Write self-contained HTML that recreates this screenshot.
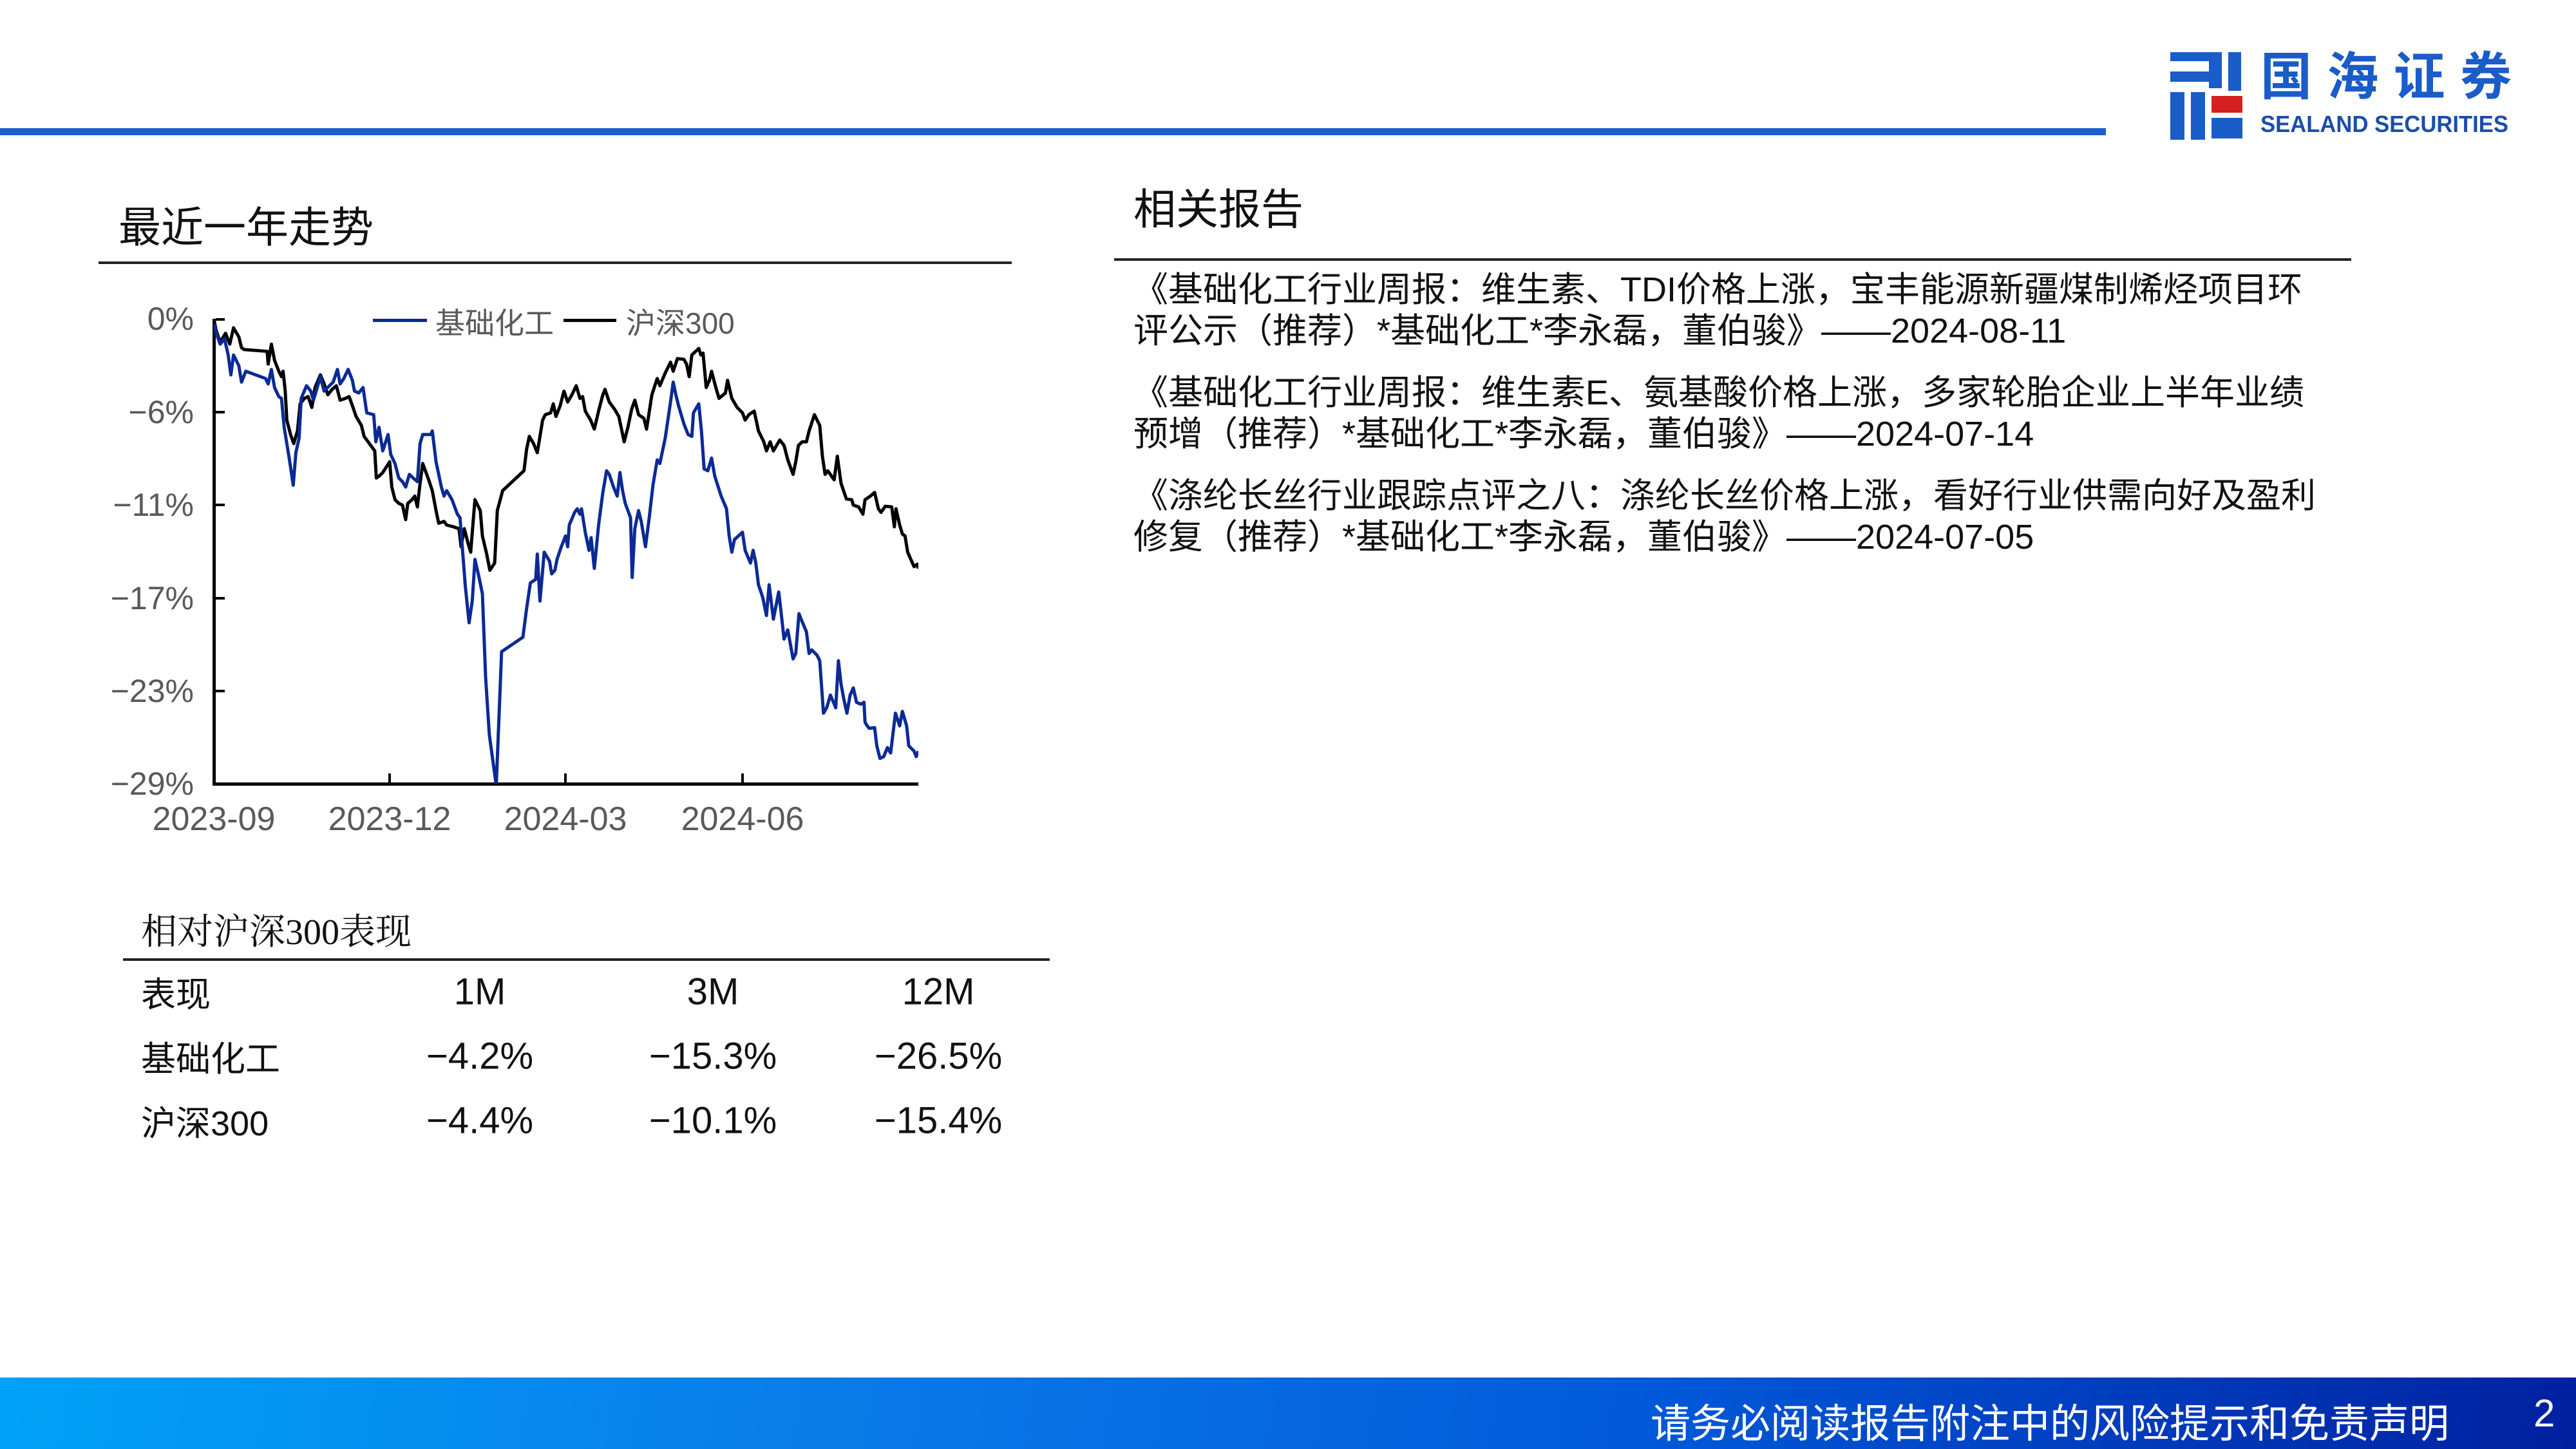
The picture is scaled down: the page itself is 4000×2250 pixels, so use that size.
<!DOCTYPE html>
<html><head><meta charset="utf-8"><style>
body{margin:0;width:4000px;height:2250px;position:relative;background:#fff;overflow:hidden;font-family:"Liberation Sans","Noto Sans CJK SC",sans-serif;color:#111}
.a{position:absolute;white-space:nowrap}
.yl{position:absolute;right:3699px;font-size:50px;color:#595959;transform:translateY(-50%)}
.xl{position:absolute;top:1242px;font-size:52px;color:#595959;transform:translateX(-50%)}
.rep{position:absolute;left:1760px;font-size:54px;line-height:64px}
.tc{position:absolute;font-size:58px;transform:translate(-50%,-50%)}
</style></head><body>
<div class="a" style="left:0;top:199px;width:3270px;height:11px;background:#1c5fd0"></div>
<svg class="a" style="left:3360px;top:75px" width="560" height="150" viewBox="0 0 560 150">
<rect x="10" y="6" width="70" height="14" fill="#1a5cc8"/><rect x="10" y="36" width="70" height="16" fill="#1a5cc8"/>
<rect x="10" y="68" width="22" height="74" fill="#1a5cc8"/><rect x="42" y="68" width="22" height="74" fill="#1a5cc8"/>
<rect x="70" y="6" width="20" height="56" fill="#1a5cc8"/><rect x="100" y="6" width="20" height="60" fill="#1a5cc8"/>
<rect x="74" y="74" width="48" height="26" fill="#d42020"/><rect x="74" y="108" width="48" height="32" fill="#1a5cc8"/>
<text x="150" y="72" font-size="80" font-weight="bold" fill="#1a5cc8" font-family="Noto Sans CJK SC,sans-serif" textLength="390">国海证券</text>
<text x="150" y="130" font-size="36" font-weight="bold" fill="#1a4ea8" font-family="Liberation Sans,sans-serif" textLength="385" lengthAdjust="spacingAndGlyphs">SEALAND SECURITIES</text>
</svg>
<div class="a" style="left:184px;top:300px;font-size:66px">最近一年走势</div>
<div class="a" style="left:153px;top:406px;width:1418px;height:4px;background:#222"></div>
<div class="a" style="left:1760px;top:272px;font-size:66px">相关报告</div>
<div class="a" style="left:1730px;top:401px;width:1921px;height:4px;background:#222"></div>
<div class="rep" style="top:418px">《基础化工行业周报：维生素、TDI价格上涨，宝丰能源新疆煤制烯烃项目环<br>评公示（推荐）*基础化工*李永磊，董伯骏》——2024-08-11</div>
<div class="rep" style="top:578px">《基础化工行业周报：维生素E、氨基酸价格上涨，多家轮胎企业上半年业绩<br>预增（推荐）*基础化工*李永磊，董伯骏》——2024-07-14</div>
<div class="rep" style="top:738px">《涤纶长丝行业跟踪点评之八：涤纶长丝价格上涨，看好行业供需向好及盈利<br>修复（推荐）*基础化工*李永磊，董伯骏》——2024-07-05</div>
<div class="yl" style="top:495px">0%</div><div class="yl" style="top:640px">−6%</div><div class="yl" style="top:784px">−11%</div>
<div class="yl" style="top:929px">−17%</div><div class="yl" style="top:1073px">−23%</div><div class="yl" style="top:1217px">−29%</div>
<div class="xl" style="left:332px">2023-09</div><div class="xl" style="left:605px">2023-12</div><div class="xl" style="left:878px">2024-03</div><div class="xl" style="left:1153px">2024-06</div>
<div class="a" style="left:579px;top:495px;width:84px;height:5px;background:#0c2a96"></div>
<div class="a" style="left:676px;top:466px;font-size:46px;color:#595959">基础化工</div>
<div class="a" style="left:875px;top:495px;width:82px;height:5px;background:#000"></div>
<div class="a" style="left:972px;top:466px;font-size:46px;color:#595959">沪深300</div>
<div class="a" style="left:330px;top:495px;width:5px;height:724px;background:#000"></div>
<div class="a" style="left:330px;top:1215px;width:1096px;height:5px;background:#000"></div>
<div class="a" style="left:335px;top:494px;width:14px;height:4px;background:#000"></div>
<div class="a" style="left:335px;top:638px;width:14px;height:4px;background:#000"></div>
<div class="a" style="left:335px;top:782px;width:14px;height:4px;background:#000"></div>
<div class="a" style="left:335px;top:927px;width:14px;height:4px;background:#000"></div>
<div class="a" style="left:335px;top:1071px;width:14px;height:4px;background:#000"></div>
<div class="a" style="left:603px;top:1201px;width:4px;height:14px;background:#000"></div>
<div class="a" style="left:876px;top:1201px;width:4px;height:14px;background:#000"></div>
<div class="a" style="left:1151px;top:1201px;width:4px;height:14px;background:#000"></div>
<svg class="a" style="left:332px;top:495px" width="1094" height="722" viewBox="218 100 1322 1285" preserveAspectRatio="none">
<polyline vector-effect="non-scaling-stroke" fill="none" stroke="#000" stroke-width="5" stroke-linejoin="round" points="218,100 222,130 230,165 240,140 248,170 255,125 265,150 270,180 275,185 318,190 320,225 326,170 332,215 340,245 345,260 348,245 352,300 355,380 362,420 368,445 375,410 380,335 388,320 395,315 402,345 408,290 418,255 425,280 432,310 440,295 448,285 455,325 465,320 472,315 478,340 485,370 495,395 500,425 510,445 520,465 523,540 528,535 535,525 548,495 552,565 558,600 565,610 572,615 578,655 582,610 590,600 595,590 600,620 605,555 610,500 620,540 628,575 635,630 640,665 650,660 655,670 668,675 678,680 682,730 688,680 695,720 700,745 708,600 718,630 722,700 730,750 736,795 745,775 750,630 760,575 800,520 805,460 810,425 818,445 825,470 830,425 835,380 840,365 850,360 855,335 860,370 868,340 875,300 882,330 890,310 898,285 905,320 910,315 915,355 925,380 932,405 940,355 948,310 952,295 960,330 970,350 978,370 988,440 995,400 1002,350 1008,325 1015,365 1025,375 1030,405 1040,310 1050,265 1055,285 1065,250 1075,220 1080,245 1088,210 1100,212 1105,225 1110,260 1115,200 1128,182 1132,200 1136,195 1142,290 1148,270 1152,245 1160,290 1166,320 1178,305 1182,270 1190,320 1200,345 1210,360 1215,380 1222,365 1232,355 1240,410 1250,440 1255,465 1262,440 1268,465 1280,435 1288,450 1295,490 1305,530 1310,495 1315,450 1322,440 1330,440 1335,410 1345,365 1355,395 1360,480 1365,530 1370,520 1382,545 1388,480 1395,555 1405,598 1415,600 1418,615 1428,620 1436,640 1440,600 1450,590 1458,580 1465,625 1470,635 1478,618 1490,620 1495,675 1498,625 1505,670 1510,695 1515,700 1520,745 1528,772 1532,785 1538,778 1540,790"/>
<polyline vector-effect="non-scaling-stroke" fill="none" stroke="#0c2a96" stroke-width="5" stroke-linejoin="round" points="218,115 225,150 230,170 238,155 245,200 250,255 255,200 265,230 270,275 278,245 315,265 320,280 326,240 332,290 340,315 345,320 350,400 355,445 360,490 367,560 372,470 378,430 382,320 392,285 400,300 405,325 410,300 418,260 425,300 435,285 442,275 450,240 455,280 462,265 470,240 478,270 482,300 490,305 498,290 505,360 518,365 522,440 528,400 535,465 545,420 550,475 558,500 565,540 572,550 578,565 585,530 592,540 600,550 605,445 610,420 625,420 628,410 635,495 645,565 650,590 655,575 665,600 675,640 680,650 685,745 690,840 697,940 703,880 708,765 715,810 722,860 728,1090 735,1250 748,1390 758,1020 778,1000 798,980 805,900 812,830 822,820 825,750 830,880 838,745 848,770 852,805 858,795 862,765 870,730 878,700 882,730 885,670 895,635 900,625 905,640 908,625 915,690 922,740 926,705 932,790 940,670 948,580 955,520 960,530 968,565 975,590 980,525 985,575 990,610 1000,650 1003,815 1008,680 1015,630 1020,660 1028,730 1035,650 1042,560 1050,490 1055,500 1065,430 1075,330 1080,275 1085,310 1090,340 1100,390 1108,420 1115,425 1118,360 1128,335 1133,410 1138,515 1145,520 1152,485 1158,535 1170,590 1180,625 1185,700 1190,745 1195,710 1210,690 1215,740 1225,775 1230,740 1235,775 1240,835 1248,870 1255,920 1260,835 1268,930 1278,855 1282,905 1288,985 1295,960 1300,1000 1305,1040 1310,1025 1316,915 1320,930 1330,965 1335,1025 1340,1015 1350,1030 1355,1045 1362,1190 1368,1175 1375,1140 1385,1175 1390,1045 1395,1110 1400,1150 1406,1190 1412,1140 1418,1120 1424,1160 1432,1165 1438,1160 1440,1215 1444,1225 1448,1232 1458,1230 1462,1280 1468,1315 1475,1310 1482,1285 1488,1300 1497,1190 1505,1225 1510,1185 1518,1225 1522,1280 1532,1295 1536,1310 1540,1295"/>
</svg>
<div class="a" style="left:219px;top:1403px;font-size:56px;font-family:'Liberation Serif','Noto Serif CJK SC',serif">相对沪深300表现</div>
<div class="a" style="left:191px;top:1488px;width:1439px;height:4px;background:#222"></div>
<div class="a" style="left:219px;top:1500px;font-size:54px">表现</div>
<div class="tc" style="left:745px;top:1540px">1M</div><div class="tc" style="left:1107px;top:1540px">3M</div><div class="tc" style="left:1457px;top:1540px">12M</div>
<div class="a" style="left:219px;top:1600px;font-size:54px">基础化工</div>
<div class="tc" style="left:745px;top:1640px">−4.2%</div><div class="tc" style="left:1107px;top:1640px">−15.3%</div><div class="tc" style="left:1457px;top:1640px">−26.5%</div>
<div class="a" style="left:219px;top:1700px;font-size:54px">沪深300</div>
<div class="tc" style="left:745px;top:1740px">−4.4%</div><div class="tc" style="left:1107px;top:1740px">−10.1%</div><div class="tc" style="left:1457px;top:1740px">−15.4%</div>
<div class="a" style="left:0;top:2139px;width:4000px;height:111px;background:linear-gradient(100deg,#00a2f8 0%,#0a78e8 35%,#0058d8 65%,#0020a0 100%)"></div>
<div class="a" style="right:197px;top:2160px;font-size:62px;color:#fff">请务必阅读报告附注中的风险提示和免责声明</div>
<div class="a" style="left:3934px;top:2160px;font-size:60px;color:#fff">2</div>
</body></html>
